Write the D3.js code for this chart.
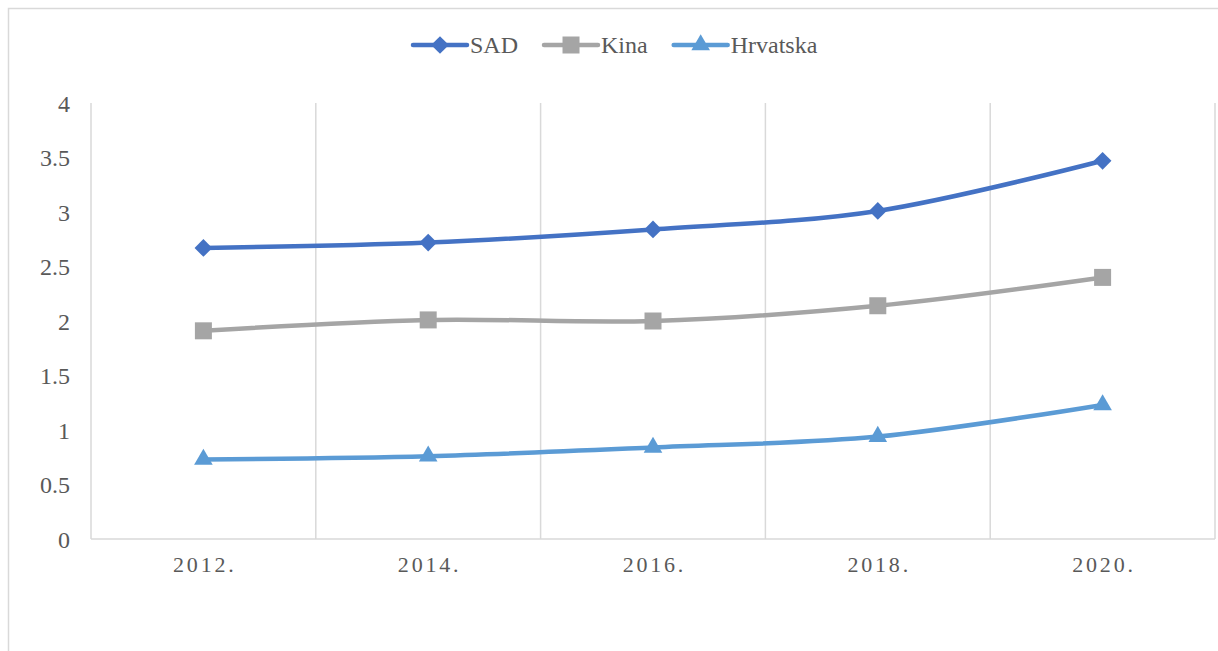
<!DOCTYPE html>
<html>
<head>
<meta charset="utf-8">
<script src="https://cdn.jsdelivr.net/npm/d3@7"></script>
<style>
  body { margin: 0; background: #fff; }
  svg { display: block; }
</style>
</head>
<body>
<div id="chart"></div>
<script>
const years = ['2012.', '2014.', '2016.', '2018.', '2020.'];
const sad = [2.67, 2.72, 2.84, 3.01, 3.47];
const kina = [1.91, 2.01, 2.0, 2.14, 2.4];
const hrvatska = [0.73, 0.76, 0.84, 0.94, 1.23];
const yTicks = [0, 0.5, 1, 1.5, 2, 2.5, 3, 3.5, 4];
const seriesNames = ['SAD', 'Kina', 'Hrvatska'];

const serif = '"Liberation Serif", "Times New Roman", serif';

document.addEventListener('DOMContentLoaded', function(){
  const series = [
    {name: seriesNames[0], values: sad, color: '#4472C4', marker: d3.symbolDiamond2},
    {name: seriesNames[1], values: kina, color: '#A5A5A5', marker: d3.symbolSquare},
    {name: seriesNames[2], values: hrvatska, color: '#5B9BD5', marker: d3.symbolTriangle}
  ];
  drawChart(series);
});

function drawChart(series) {
  const width = 1218;
  const height = 651;
  const plotLeft = 91, plotRight = 1215, plotTop = 103, plotBottom = 539;
  const gridColor = '#D9D9D9';
  const textColor = '#595959';

  const svg = d3.select('#chart').append('svg').attr('width', width).attr('height', height);

  // chart frame (right and bottom edges are outside the window)
  svg.append('rect')
    .attr('x', 8.5).attr('y', 8.5)
    .attr('width', width + 20).attr('height', height + 20)
    .attr('fill', 'none').attr('stroke', gridColor).attr('stroke-width', 1.5);

  const x = d3.scaleBand().domain(years).range([plotLeft, plotRight]).padding(0);
  const y = d3.scaleLinear().domain([0, 4]).range([plotBottom, plotTop]);

  // vertical gridlines on the category boundaries
  const bounds = years.map(d => x(d)).concat([x(years[years.length - 1]) + x.bandwidth()]);
  svg.append('g').attr('class', 'grid')
    .selectAll('line')
    .data(bounds)
    .enter()
    .append('line')
    .attr('x1', d => d).attr('x2', d => d)
    .attr('y1', plotTop).attr('y2', plotBottom)
    .attr('stroke', gridColor).attr('stroke-width', 1.5);

  // bottom axis line
  svg.append('line')
    .attr('x1', plotLeft).attr('x2', plotRight)
    .attr('y1', plotBottom).attr('y2', plotBottom)
    .attr('stroke', gridColor).attr('stroke-width', 1.5);

  // y labels
  const yAxis = d3.axisLeft(y).tickValues(yTicks).tickSize(0).tickPadding(21).tickFormat(d => String(d));
  const gy = svg.append('g').attr('transform', 'translate(' + plotLeft + ',0)').call(yAxis)
    .attr('font-family', serif).attr('font-size', 24);
  gy.select('.domain').remove();
  gy.selectAll('text').attr('dy', '0.35em').attr('fill', textColor);

  // x labels
  const xAxis = d3.axisBottom(x).tickSize(0).tickPadding(17);
  const gx = svg.append('g').attr('transform', 'translate(0,' + plotBottom + ')').call(xAxis)
    .attr('font-family', serif).attr('font-size', 22);
  gx.select('.domain').remove();
  gx.selectAll('text').attr('letter-spacing', '2.8px').attr('fill', textColor).attr('dx', '1.4px');

  // lines
  const line = d3.line()
    .x((d, i) => x(years[i]) + x.bandwidth() / 2)
    .y(d => y(d))
    .curve(d3.curveCatmullRom.alpha(0));

  const groups = svg.append('g').attr('class', 'series')
    .selectAll('g')
    .data(series)
    .enter()
    .append('g');

  groups.append('path')
    .attr('d', d => line(d.values))
    .attr('fill', 'none')
    .attr('stroke', d => d.color)
    .attr('stroke-width', 4.5)
    .attr('stroke-linejoin', 'round')
    .attr('stroke-linecap', 'round');

  groups.each(function(s) {
    d3.select(this).selectAll('.marker')
      .data(s.values)
      .enter()
      .append('path')
      .attr('class', 'marker')
      .attr('d', d3.symbol().type(s.marker).size(markerSize(s.marker)))
      .attr('transform', (d, i) => 'translate(' + (x(years[i]) + x.bandwidth() / 2) + ',' + y(d) + ')')
      .attr('fill', s.color);
  });

  // legend
  const legend = svg.append('g').attr('class', 'legend')
    .attr('font-family', serif).attr('font-size', 24);
  let lx = 413;
  const ly = 45;
  series.forEach(function(s) {
    const item = legend.append('g');
    item.append('line')
      .attr('x1', lx).attr('x2', lx + 54)
      .attr('y1', ly).attr('y2', ly)
      .attr('stroke', s.color).attr('stroke-width', 4.5).attr('stroke-linecap', 'round');
    item.append('path')
      .attr('d', d3.symbol().type(s.marker).size(markerSize(s.marker)))
      .attr('transform', 'translate(' + (lx + 27) + ',' + ly + ')')
      .attr('fill', s.color);
    const t = item.append('text')
      .attr('x', lx + 57).attr('y', ly)
      .attr('dy', '0.35em')
      .attr('fill', textColor)
      .text(s.name);
    lx = lx + 57 + t.node().getComputedTextLength() + 26;
  });
}

function markerSize(type) {
  if (type === d3.symbolSquare) return 17 * 17;
  if (type === d3.symbolTriangle) return 150;
  return 200;
}
</script>
</body>
</html>
